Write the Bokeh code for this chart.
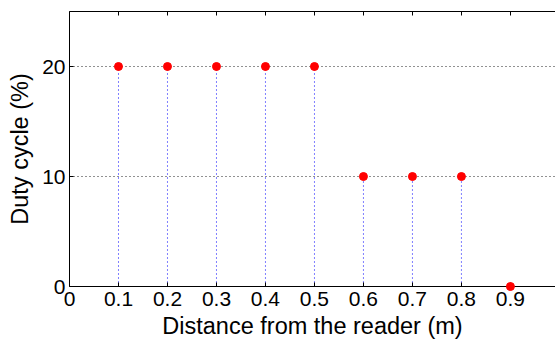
from bokeh.plotting import figure
from bokeh.models import LinearAxis, FixedTicker, Range1d, ColumnDataSource
from bokeh.embed import file_html
from bokeh.resources import INLINE

distance = [0.1, 0.2, 0.3, 0.4, 0.5, 0.6, 0.7, 0.8, 0.9]
duty_cycle = [20, 20, 20, 20, 20, 10, 10, 10, 0]
x_ticks = [0, 0.1, 0.2, 0.3, 0.4, 0.5, 0.6, 0.7, 0.8, 0.9, 1.0]
y_ticks = [0, 10, 20]
grid_ticks = [10, 20]

FONT = "Liberation Sans"
TICK_FS = "21px"
LABEL_FS = "23.5px"

src = ColumnDataSource(dict(x=distance, y=duty_cycle, base=[0] * len(distance)))

p = figure(width=555, height=341, output_backend="svg", toolbar_location=None,
           x_range=Range1d(0, 0.992), y_range=Range1d(0, 25),
           min_border_left=69, min_border_right=0, min_border_top=11,
           min_border_bottom=54)
p.outline_line_color = None
p.background_fill_color = "white"
p.border_fill_color = "white"

p.xgrid.visible = False
p.ygrid.ticker = FixedTicker(ticks=grid_ticks)
p.ygrid.grid_line_color = "#222222"
p.ygrid.grid_line_dash = "1 3"
p.ygrid.grid_line_width = 1

for ax in (p.xaxis[0], p.yaxis[0]):
    ax.major_tick_in = 4
    ax.major_tick_out = 0
    ax.minor_tick_in = 0
    ax.minor_tick_out = 0
    ax.major_label_text_font = FONT
    ax.major_label_text_font_size = TICK_FS
    ax.major_label_text_color = "black"
    ax.axis_label_text_font = FONT
    ax.axis_label_text_font_size = LABEL_FS
    ax.axis_label_text_font_style = "normal"
    ax.axis_label_text_color = "black"
    ax.axis_line_color = "black"
    ax.major_tick_line_color = "black"

p.xaxis.ticker = FixedTicker(ticks=x_ticks)
p.yaxis.ticker = FixedTicker(ticks=y_ticks)
p.xaxis.axis_label = "Distance from the reader (m)"
p.yaxis.axis_label = "Duty cycle (%)"
p.xaxis.major_label_standoff = 5
p.xaxis.axis_label_standoff = 4
p.yaxis.major_label_standoff = 4
p.yaxis.axis_label_standoff = 6

top = LinearAxis(ticker=FixedTicker(ticks=x_ticks), major_tick_in=4, major_tick_out=0,
                 minor_tick_in=0, minor_tick_out=0, major_label_text_font_size="1px",
                 major_label_overrides={t: "" for t in x_ticks},
                 major_label_standoff=0, axis_line_color="black")
p.add_layout(top, "above")

p.segment(x0="x", y0="base", x1="x", y1="y", source=src, line_color="#0000ff",
          line_dash="1 3", line_width=1)
p.scatter(x="x", y="y", source=src, size=8, fill_color="#ff0000", line_color="#ff0000",
          level="overlay")

open("out.html", "w").write(file_html(p, INLINE))
